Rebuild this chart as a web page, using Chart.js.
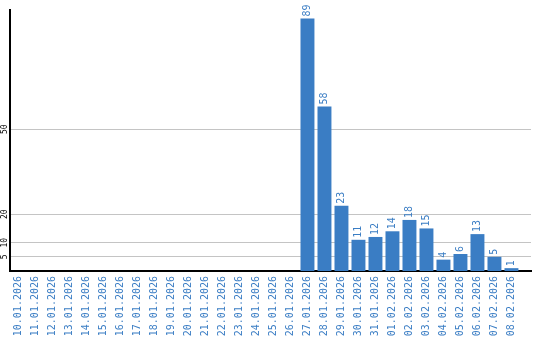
<!DOCTYPE html>
<html>
<head>
<meta charset="utf-8">
<script src="https://cdn.jsdelivr.net/npm/chart.js@4/dist/chart.umd.min.js"></script>
<style>
  html, body { margin: 0; padding: 0; background: #fff; }
  #wrap { width: 540px; height: 340px; }
</style>
</head>
<body>
<div id="wrap"><canvas id="dailyChart"></canvas></div>
<script>
// data
const dates = ['10.01.2026', '11.01.2026', '12.01.2026', '13.01.2026', '14.01.2026', '15.01.2026',
    '16.01.2026', '17.01.2026', '18.01.2026', '19.01.2026', '20.01.2026', '21.01.2026', '22.01.2026',
    '23.01.2026', '24.01.2026', '25.01.2026', '26.01.2026', '27.01.2026', '28.01.2026', '29.01.2026',
    '30.01.2026', '31.01.2026', '01.02.2026', '02.02.2026', '03.02.2026', '04.02.2026', '05.02.2026',
    '06.02.2026', '07.02.2026', '08.02.2026'];
const counts = [0, 0, 0, 0, 0, 0, 0, 0, 0, 0, 0, 0, 0, 0, 0, 0, 0,
    89, 58, 23, 11, 12, 14, 18, 15, 4, 6, 13, 5, 1];
const yTicks = [5, 10, 20, 50];

const blue = '#3a7dc4';
const mono = '"DejaVu Sans Mono", "Liberation Mono", monospace';

// all rotated texts (bar values, date labels, y labels) are drawn by hand
const extraLabels = {
    id: 'extraLabels',
    afterDatasetsDraw(chart) {
        const ctx = chart.ctx;
        const meta = chart.getDatasetMeta(0);
        meta.data.forEach((bar, i) => {
            if (!counts[i]) return;
            ctx.save();
            ctx.translate(bar.x, bar.y - 2);
            ctx.rotate(-Math.PI / 2);
            ctx.font = '10px ' + mono;
            ctx.fillStyle = blue;
            ctx.textAlign = 'left';
            ctx.textBaseline = 'middle';
            ctx.fillText(String(counts[i]), 0, 0);
            ctx.restore();
        });

        const xScale = chart.scales.x;
        dates.forEach((d, i) => {
            ctx.save();
            ctx.translate(xScale.getPixelForValue(i), chart.chartArea.bottom + 5);
            ctx.rotate(-Math.PI / 2);
            ctx.font = '10px ' + mono;
            ctx.fillStyle = blue;
            ctx.textAlign = 'right';
            ctx.textBaseline = 'middle';
            ctx.fillText(d, 0, 0);
            ctx.restore();
        });

        const yScale = chart.scales.y;
        yTicks.forEach(t => {
            ctx.save();
            ctx.translate(5, yScale.getPixelForValue(t));
            ctx.rotate(-Math.PI / 2);
            ctx.font = '8px ' + mono;
            ctx.fillStyle = '#000';
            ctx.textAlign = 'center';
            ctx.textBaseline = 'middle';
            ctx.fillText(String(t), 0, 0);
            ctx.restore();
        });
    }
};

const ctx = document.getElementById('dailyChart').getContext('2d');
new Chart(ctx, {
    type: 'bar',
    data: {
        datasets: [{
            data: counts.map((v, i) => ({ x: i, y: v })),
            backgroundColor: blue,
            borderWidth: 0,
            categoryPercentage: 1,
            barPercentage: 0.82
        }]
    },
    options: {
        responsive: true,
        maintainAspectRatio: false,
        animation: false,
        layout: { padding: { left: 10, right: 9, top: 10, bottom: 69 } },
        plugins: {
            legend: { display: false },
            tooltip: { enabled: false }
        },
        scales: {
            x: {
                type: 'linear',
                offset: false,
                min: -0.5,
                max: 30.15,
                grid: { display: false, drawTicks: false },
                border: { color: '#000', width: 2 },
                ticks: { display: false }
            },
            y: {
                min: 0,
                max: 92,
                afterBuildTicks: scale => {
                    scale.ticks = yTicks.map(v => ({ value: v }));
                },
                grid: { color: '#c4c4c4', drawTicks: false },
                border: { color: '#000', width: 2 },
                ticks: { display: false }
            }
        }
    },
    plugins: [extraLabels]
});
</script>
</body>
</html>
